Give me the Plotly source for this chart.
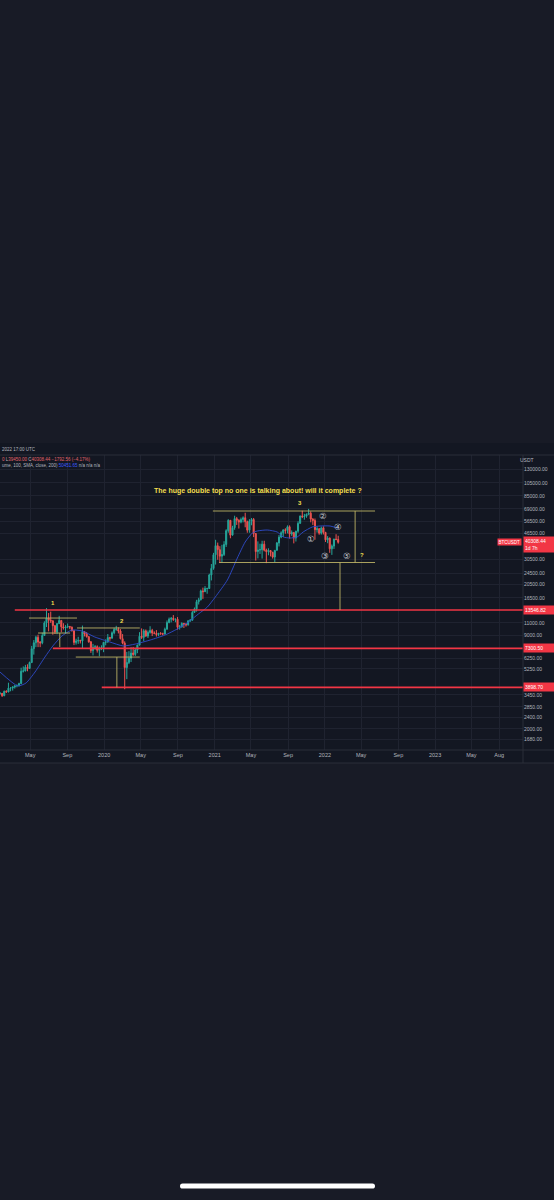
import math
import pandas as pd
import plotly.graph_objects as go

W, H = 554, 1200

# ── Weekly BTCUSDT candles (weeks start on Monday) ────────────────────────────
first_open = 3530
highs = [
    3620, 3560, 3700, 3720, 4200, 3900, 3950, 4000, 4080, 4200,
    5350, 5460, 5600, 5650, 5900, 7600, 8350, 8950, 9100, 8200,
    9400, 11300, 13970, 12900, 13200, 11450, 10650, 10950, 12330, 11470,
    10950, 10620, 10900, 10450, 10380, 9800, 8530, 8800, 8400, 10540,
    9600, 9500, 8900, 8220, 7850, 7700, 7660, 7520, 7670, 8100,
    8450, 9200, 8800, 9600, 10170, 10500, 10250, 9960, 9190, 8180,
    6900, 6980, 7460, 7470, 7300, 7750, 9480, 10070, 9950, 9900,
    9740, 10430, 10000, 9600, 9800, 9380, 9480, 9400, 10200, 11450,
    12000, 12090, 12480, 11800, 12090, 10650, 11100, 10990, 10950, 11490,
    11720, 13350, 14100, 15960, 16480, 18800, 19420, 19900, 19400, 24300,
    28400, 34000, 41950, 40100, 37850, 38700, 41000, 49700, 58350, 57500,
    52600, 61800, 60600, 58400, 60000, 61200, 64850, 57100, 58450, 59600,
    59600, 46600, 40900, 39400, 41300, 41300, 36400, 36600, 35100, 34600,
    35400, 40500, 45300, 48100, 49500, 50500, 52900, 52900, 48800, 47300,
    48500, 56500, 62000, 67000, 63700, 64000, 69000, 66300, 59400, 59100,
    51900, 50700, 51900, 52100, 47600, 44500, 43500, 38900, 42700, 45900,
    44750,
]
lows = [
    3460, 3340, 3380, 3570, 3600, 3660, 3700, 3820, 3900, 3950,
    4100, 4950, 5040, 5050, 5240, 5760, 6600, 7450, 7450, 7450,
    7800, 8960, 10300, 9600, 11000, 9100, 9200, 9180, 10800, 9460,
    9880, 9330, 10100, 9950, 9600, 7700, 7760, 7850, 7900, 7300,
    8850, 8700, 8000, 6790, 6520, 7160, 6820, 6430, 7100, 6870,
    7670, 8000, 8250, 8560, 9150, 9700, 9290, 8450, 7800, 3782,
    4450, 5670, 5860, 6470, 6460, 6760, 7660, 8500, 8200, 8800,
    8630, 9260, 8900, 9170, 8830, 8890, 9100, 9000, 9130, 9900,
    10940, 11100, 11360, 11120, 9880, 9880, 10200, 10140, 10370, 10530,
    11200, 11400, 12950, 13200, 14800, 15800, 16200, 18100, 17600, 19000,
    21800, 25900, 28150, 30420, 28850, 29200, 32300, 37400, 47000, 43000,
    45000, 49300, 53300, 50300, 54700, 55500, 51300, 47000, 47000, 53000,
    43800, 30000, 31100, 33400, 31000, 34800, 28800, 32700, 32100, 31000,
    29300, 35300, 37700, 43000, 43900, 46300, 46500, 42800, 44700, 39600,
    40800, 46900, 54300, 59500, 58000, 59800, 62300, 55600, 53300, 42000,
    47100, 45500, 45600, 45700, 40500, 39700, 34000, 32900, 36200, 41700,
    39450,
]
closes = [
    3540, 3410, 3660, 3620, 3850, 3860, 3920, 4000, 4020, 4150,
    5050, 5080, 5380, 5280, 5820, 7260, 8000, 8730, 8080, 7980,
    8980, 11000, 11870, 11500, 11380, 10520, 9520, 10880, 11450, 10330,
    10140, 10300, 10400, 10280, 9690, 8040, 8220, 8280, 8230, 9550,
    9200, 8810, 8110, 7050, 7420, 7500, 7080, 7320, 7390, 8050,
    8100, 8690, 8600, 9380, 9900, 9920, 9660, 8530, 7950, 5360,
    5820, 6240, 6770, 6620, 7120, 7700, 8880, 8720, 9680, 8900,
    9450, 9750, 9340, 9300, 9130, 9290, 9240, 9200, 9930, 11060,
    11680, 11850, 11640, 11680, 10260, 10320, 10930, 10780, 10670, 11370,
    11500, 13030, 13800, 15480, 15970, 18420, 18190, 19150, 19150, 23800,
    26470, 33000, 38150, 35800, 32250, 33100, 38900, 48600, 57400, 45200,
    51000, 59000, 57400, 55800, 58200, 59800, 56200, 49000, 56600, 58200,
    46400, 34700, 35600, 35800, 39100, 35500, 34700, 35300, 34250, 31800,
    35400, 39850, 43800, 47000, 49250, 48800, 51750, 46000, 47250, 43160,
    48200, 54650, 61500, 60850, 61300, 63300, 64400, 58600, 57250, 49400,
    50100, 46700, 50800, 47300, 41900, 43100, 36300, 37900, 42400, 42101,
    40308.44,
]
weeks = pd.date_range("2019-01-21", periods=len(closes), freq="7D")
opens = [first_open] + closes[:-1]

# ── Blue moving average ──────────────────────────────────────────────────────
ma_dates = [
    "2019-01-21", "2019-03-21", "2019-04-17", "2019-05-17", "2019-06-19",
    "2019-07-15", "2019-08-14", "2019-09-16", "2019-10-20", "2019-12-01",
    "2020-01-20", "2020-03-04", "2020-04-13", "2020-06-02", "2020-07-21",
    "2020-08-30", "2020-10-06", "2020-11-08", "2020-12-08", "2021-01-03",
    "2021-02-12", "2021-03-17", "2021-04-12", "2021-05-06", "2021-05-22",
    "2021-06-24", "2021-07-27", "2021-08-16", "2021-09-08", "2021-10-01",
    "2021-10-21", "2021-11-20", "2021-12-16", "2022-01-18", "2022-02-14",
]
ma_values = [
    4990, 3990, 4180, 4990, 6360, 7590, 8910, 9810, 9660, 8770,
    8090, 7590, 7830, 8360, 9060, 9980, 11170, 12700, 14220, 16700,
    21960, 31290, 40490, 46810, 48330, 49120, 47570, 43880, 43180, 43880,
    47570, 51540, 52380, 52380, 50451.65,
]

# ── Axis ticks ────────────────────────────────────────────────────────────────
x_ticks = [
    "2019-05-01", "2019-09-01", "2020-01-01", "2020-05-01", "2020-09-01",
    "2021-01-01", "2021-05-01", "2021-09-01", "2022-01-01", "2022-05-01",
    "2022-09-01", "2023-01-01", "2023-05-01", "2023-08-01",
]
x_tick_text = ["May", "Sep", "2020", "May", "Sep", "2021", "May", "Sep",
               "2022", "May", "Sep", "2023", "May", "Aug"]

y_ticks = [130000, 105000, 85000, 69000, 56500, 46500, 30500, 24500, 20500,
           16500, 11000, 9000, 6250, 5250, 3450, 2850, 2400, 2000, 1680]
y_tick_text = [f"{v:.2f}" for v in y_ticks]

# ── Drawings ──────────────────────────────────────────────────────────────────
level_prices = [13546.82, 7300.50, 3898.70]
level_starts = ["2019-03-11", "2019-07-15", "2019-12-24"]

# (start, end, price)
pattern_hlines = [
    ("2019-04-27", "2019-10-03", 11900),
    ("2019-05-27", "2019-09-10", 9350),
    ("2019-10-03", "2020-04-28", 10140),
    ("2019-09-29", "2020-04-28", 6350),
    ("2020-12-26", "2022-06-16", 66700),
    ("2021-01-16", "2022-06-16", 29100),
]
# (date, price from, price to)
pattern_vlines = [
    ("2019-08-07", 9350, 7460),
    ("2020-02-12", 6350, 3900),
    ("2022-04-11", 66700, 29100),
    ("2022-02-20", 29100, 13546.82),
]

pattern_labels = [("1", "2019-07-15", 15170), ("2", "2020-02-29", 11360),
                  ("3", "2021-10-11", 75940), ("?", "2022-05-04", 32870)]
wave_labels = [("①", "2021-11-16", 42500), ("②", "2021-12-26", 61380),
               ("③", "2022-01-02", 32350), ("④", "2022-02-13", 51540),
               ("⑤", "2022-03-15", 32350)]
title_text = "The huge double top no one is talking about! will it complete ?"
last_price = 40308.44

# ── Style ────────────────────────────────────────────────────────────────────
PAGE = "#181b26"
CHART = "#131722"
GRID = "#1f2330"
BORDER = "#2a2e39"
TXT = "#b2b5be"
UP = "#26a69a"
DOWN = "#ef5350"
LEVEL = "#f23645"
DRAW = "rgba(196,186,104,0.85)"
YELLOW = "#f2df4f"
FONT = "Liberation Sans, Arial, sans-serif"
X_END = "2023-10-19"


def px(x):
    return x / W


def py(y):
    return 1 - y / H


fig = go.Figure()

fig.add_trace(go.Candlestick(
    x=weeks, open=opens, high=highs, low=lows, close=closes,
    increasing=dict(line=dict(color=UP, width=1), fillcolor=UP),
    decreasing=dict(line=dict(color=DOWN, width=1), fillcolor=DOWN),
    whiskerwidth=0, hoverinfo="skip",
))

fig.add_trace(go.Scatter(
    x=ma_dates, y=ma_values, mode="lines",
    line=dict(color="#2f4ccc", width=0.9, shape="spline", smoothing=0.6),
    hoverinfo="skip",
))

for start, price in zip(level_starts, level_prices):
    fig.add_trace(go.Scatter(
        x=[start, X_END], y=[price, price], mode="lines",
        line=dict(color=LEVEL, width=1.6), hoverinfo="skip",
    ))

for x0, x1, price in pattern_hlines:
    fig.add_trace(go.Scatter(
        x=[x0, x1], y=[price, price], mode="lines",
        line=dict(color=DRAW, width=1), hoverinfo="skip",
    ))

for xd, p0, p1 in pattern_vlines:
    fig.add_trace(go.Scatter(
        x=[xd, xd], y=[p0, p1], mode="lines",
        line=dict(color=DRAW, width=1), hoverinfo="skip",
    ))

ann = []
ann.append(dict(x="2021-05-25", y=math.log10(92050), xref="x", yref="y",
                text=f"<b>{title_text}</b>", showarrow=False,
                font=dict(family=FONT, size=7, color=YELLOW)))
for txt, xd, price in pattern_labels:
    ann.append(dict(x=xd, y=math.log10(price), xref="x", yref="y",
                    text=f"<b>{txt}</b>", showarrow=False,
                    font=dict(family=FONT, size=6, color=YELLOW)))
for txt, xd, price in wave_labels:
    ann.append(dict(x=xd, y=math.log10(price), xref="x", yref="y",
                    text=txt, showarrow=False,
                    font=dict(family="DejaVu Sans, Noto Sans CJK JP", size=8.5,
                              color="#c3c5cc")))

# red price labels on the axis
for price in level_prices:
    ann.append(dict(x=px(523), y=math.log10(price), xref="paper", yref="y",
                    xanchor="left", yanchor="middle", text=f"{price:.2f}",
                    showarrow=False, bgcolor=LEVEL, borderpad=1, width=28,
                    align="left",
                    font=dict(family=FONT, size=5, color="white")))
ann.append(dict(x=px(523), y=math.log10(last_price), xref="paper", yref="y",
                xanchor="left", yanchor="middle", yshift=-2,
                text=f"{last_price:.2f}<br>1d 7h", showarrow=False,
                bgcolor=LEVEL, borderpad=1, width=28, align="left",
                font=dict(family=FONT, size=5, color="white")))
ann.append(dict(x=px(522), y=math.log10(last_price), xref="paper", yref="y",
                xanchor="right", yanchor="middle", text="BTCUSDT",
                showarrow=False, bgcolor=LEVEL, borderpad=0.5,
                font=dict(family=FONT, size=4.5, color="white")))
ann.append(dict(x=px(536), y=py(460), xref="paper", yref="paper",
                text="USDT", showarrow=False,
                font=dict(family=FONT, size=5, color=TXT)))

# legend / header lines
red = "#e0646a"
ann.append(dict(x=0, y=py(449), xref="paper", yref="paper", xanchor="left",
                text="2022 17:00 UTC", showarrow=False,
                font=dict(family=FONT, size=4.5, color=TXT)))
ann.append(dict(x=0, y=py(459), xref="paper", yref="paper", xanchor="left",
                text=(f"<span style='color:{red}'>0</span> L"
                      f"<span style='color:{red}'>39450.00</span> C"
                      f"<span style='color:{red}'>40308.44 −1792.56 (−4.17%)</span>"),
                showarrow=False, font=dict(family=FONT, size=4.5, color=TXT)))
ann.append(dict(x=0, y=py(466), xref="paper", yref="paper", xanchor="left",
                text=("ume, 100, SMA, close, 200) "
                      "<span style='color:#3d5afe'>50451.65</span> n/a n/a n/a"),
                showarrow=False, font=dict(family=FONT, size=4.5, color=TXT)))


def pill(x0, x1, yc, r):
    pts = [
        f"M{px(x0 + r)},{py(yc - r)}", f"L{px(x1 - r)},{py(yc - r)}",
        f"Q{px(x1)},{py(yc - r)} {px(x1)},{py(yc)}",
        f"Q{px(x1)},{py(yc + r)} {px(x1 - r)},{py(yc + r)}",
        f"L{px(x0 + r)},{py(yc + r)}",
        f"Q{px(x0)},{py(yc + r)} {px(x0)},{py(yc)}",
        f"Q{px(x0)},{py(yc - r)} {px(x0 + r)},{py(yc - r)}", "Z",
    ]
    return " ".join(pts)


shapes = [
    dict(type="rect", xref="paper", yref="paper", x0=0, x1=1,
         y0=py(763), y1=py(443), fillcolor=CHART, line=dict(width=0),
         layer="below"),
    dict(type="line", xref="paper", yref="paper", x0=0, x1=1,
         y0=py(455), y1=py(455), line=dict(color=BORDER, width=1)),
    dict(type="line", xref="paper", yref="paper", x0=0, x1=1,
         y0=py(750), y1=py(750), line=dict(color=BORDER, width=1)),
    dict(type="line", xref="paper", yref="paper", x0=0, x1=1,
         y0=py(763), y1=py(763), line=dict(color=BORDER, width=1)),
    dict(type="line", xref="paper", yref="paper", x0=px(523), x1=px(523),
         y0=py(763), y1=py(455), line=dict(color=BORDER, width=1)),
    dict(type="path", xref="paper", yref="paper", path=pill(180, 375, 1186, 2.6),
         fillcolor="white", line=dict(width=0)),
]

fig.update_layout(
    width=W, height=H,
    margin=dict(l=0, r=0, t=0, b=0),
    paper_bgcolor=PAGE, plot_bgcolor="rgba(0,0,0,0)",
    showlegend=False,
    annotations=ann, shapes=shapes,
    xaxis=dict(
        domain=[0, px(523)], type="date", range=["2019-01-21", X_END],
        tickvals=x_ticks, ticktext=x_tick_text, ticks="",
        showgrid=True, gridcolor=GRID, gridwidth=1, zeroline=False,
        showline=False, rangeslider=dict(visible=False),
        tickfont=dict(family=FONT, size=5.5, color=TXT),
    ),
    yaxis=dict(
        domain=[py(750), py(455)], type="log", range=[3.1528, 5.2157],
        side="right", tickvals=y_ticks, ticktext=y_tick_text, ticks="",
        showgrid=True, gridcolor=GRID, gridwidth=1, zeroline=False,
        showline=False, tickfont=dict(family=FONT, size=5, color=TXT),
    ),
)

fig.write_html(
    "out.html",
    config={"displayModeBar": False},
    post_script="document.body.style.margin='0';"
                "document.body.style.background='" + PAGE + "';",
)
